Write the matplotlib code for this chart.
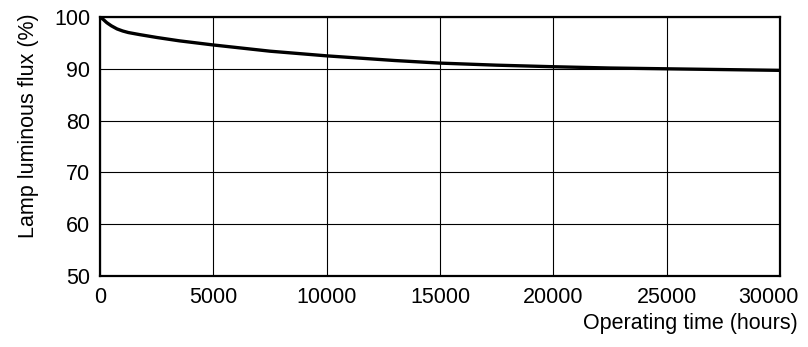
import matplotlib
matplotlib.use('Agg')
import matplotlib.pyplot as plt
from matplotlib.transforms import ScaledTranslation

# Lamp luminous flux vs operating time
hours = [0, 150, 300, 500, 750, 1000, 1250, 1750, 2500, 3500, 5000, 7500, 10000,
         13000, 15000, 17500, 20000, 22500, 25000, 27500, 30000]
flux = [100, 99.5, 98.9, 98.3, 97.7, 97.3, 97.0, 96.6, 96.05, 95.4, 94.6, 93.4, 92.5,
        91.6, 91.1, 90.7, 90.4, 90.15, 90.0, 89.85, 89.7]

x_ticks = [0, 5000, 10000, 15000, 20000, 25000, 30000]
y_ticks = [50, 60, 70, 80, 90, 100]

plt.rcParams['font.family'] = ['Liberation Sans', 'DejaVu Sans']

W, H = 808, 347
fig = plt.figure(figsize=(W / 100, H / 100), dpi=100)
ax = fig.add_axes([100 / W, 1 - 276 / H, 680 / W, 259 / H])

ax.plot(hours, flux, color='black', linewidth=2.4, solid_capstyle='butt', zorder=3)

ax.set_xlim(0, 30000)
ax.set_ylim(50, 100)
ax.set_xticks(x_ticks)
ax.set_yticks(y_ticks)
ax.set_xticklabels([str(v) for v in x_ticks])
ax.set_yticklabels([str(v) for v in y_ticks])
ax.tick_params(axis='both', length=0, labelsize=15.5, colors='black')
ax.tick_params(axis='y', pad=7)
ax.tick_params(axis='x', pad=8)
ax.grid(True, color='black', linewidth=0.8)
for s in ax.spines.values():
    s.set_linewidth(1.6)
    s.set_color('black')

# last x label sits pulled in so it stays inside the figure
last = ax.get_xticklabels()[-1]
last.set_transform(last.get_transform() + ScaledTranslation(-12 / 100, 0, fig.dpi_scale_trans))

fig.text(29 / W, 1 - 126 / H, 'Lamp luminous flux (%)', rotation=90,
         ha='center', va='center', fontsize=15.5)
fig.text(798 / W, 1 - 313 / H, 'Operating time (hours)', ha='right', va='top',
         fontsize=15.5)

fig.savefig('out.png', dpi=100)
